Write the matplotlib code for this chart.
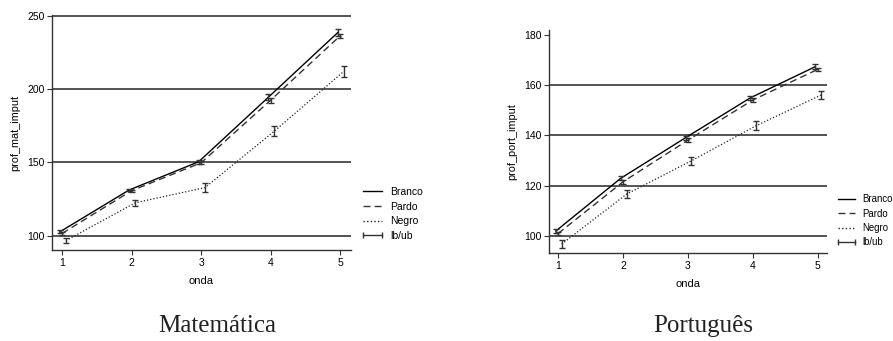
import numpy as np
import matplotlib
matplotlib.use('Agg')
import matplotlib.pyplot as plt
from matplotlib.lines import Line2D

# ondas (waves) and group means / half-widths of the CI
ondas = [1, 2, 3, 4, 5]
grupos = ['Branco', 'Pardo', 'Negro']

mat_branco = [102.5, 131.2, 150.5, 194.5, 238.8]
mat_pardo = [101.5, 130.7, 149.8, 192.6, 236.6]
mat_negro = [96.6, 122.5, 132.8, 171.5, 212.4]
mat_err_branco = [1.0, 1.0, 1.5, 2.0, 2.3]
mat_err_pardo = [0.8, 0.8, 1.0, 1.8, 1.5]
mat_err_negro = [1.5, 2.0, 3.0, 3.5, 3.9]

port_branco = [101.9, 122.9, 139.1, 155.0, 167.4]
port_pardo = [100.9, 121.5, 138.1, 154.1, 166.3]
port_negro = [96.7, 116.6, 129.9, 143.9, 156.1]
port_err_branco = [0.8, 0.8, 0.8, 0.9, 0.9]
port_err_pardo = [0.7, 0.7, 0.7, 0.7, 0.7]
port_err_negro = [1.6, 1.5, 1.6, 1.7, 1.7]

mat_yticks = [100, 150, 200, 250]
port_yticks = [100, 120, 140, 160, 180]

plt.rcParams['font.family'] = ['Liberation Sans', 'DejaVu Sans']

estilos = {
    'Branco': dict(color='black', linestyle='-', lw=1.0, dx=-0.035),
    'Pardo': dict(color='#333333', linestyle=(0, (5, 3)), lw=1.0, dx=0.0),
    'Negro': dict(color='#222222', linestyle=(0, (1, 1.6)), lw=0.9, dx=0.055),
}


def painel(ax, medias, erros, yticks, ylim, ylabel, sem_grid_topo):
    x = np.array(ondas, dtype=float)
    for g, m, e in zip(grupos, medias, erros):
        st = estilos[g]
        xs = x + st['dx']
        ax.plot(xs, m, color=st['color'], linestyle=st['linestyle'], lw=st['lw'], zorder=3)
        ax.errorbar(xs, m, yerr=e, fmt='none', ecolor='#333333', elinewidth=1.0,
                    capsize=2.5, capthick=1.0, zorder=4)
    ax.set_xlim(0.86, 5.15)
    ax.set_ylim(*ylim)
    ax.set_xticks(ondas)
    ax.set_yticks(yticks)
    ax.yaxis.grid(True, color='#262626', lw=1.1)
    ax.set_axisbelow(True)
    if sem_grid_topo:
        ax.yaxis.get_gridlines()[-1].set_visible(False)
    for s in ['top', 'right']:
        ax.spines[s].set_visible(False)
    for s in ['left', 'bottom']:
        ax.spines[s].set_color('#333333')
        ax.spines[s].set_linewidth(1.0)
    ax.tick_params(labelsize=7.5, length=3.5, width=0.8, color='#333333', pad=2)
    ax.set_xlabel('onda', fontsize=8, labelpad=6)
    ax.set_ylabel(ylabel, fontsize=7.8, labelpad=5)


fig = plt.figure(figsize=(8.93, 3.41), dpi=100)
ax1 = fig.add_axes([0.0586, 0.267, 0.334, 0.688])
ax2 = fig.add_axes([0.6148, 0.257, 0.3117, 0.655])

painel(ax1, [mat_branco, mat_pardo, mat_negro],
       [mat_err_branco, mat_err_pardo, mat_err_negro],
       mat_yticks, (90.2, 250.6), 'prof_mat_imput', False)
painel(ax2, [port_branco, port_pardo, port_negro],
       [port_err_branco, port_err_pardo, port_err_negro],
       port_yticks, (93.0, 182.0), 'prof_port_imput', True)

handles = [Line2D([], [], color=estilos[g]['color'], linestyle=estilos[g]['linestyle'], lw=1.0)
           for g in grupos]
handles.append(Line2D([], [], color='#333333', lw=1.0, marker='|', markersize=4.5, markeredgewidth=1.0))
labels = grupos + ['lb/ub']

fig.legend(handles, labels, loc='upper left', bbox_to_anchor=(0.403, 0.452), frameon=False,
           fontsize=7.5, handlelength=2.4, handletextpad=0.5, labelspacing=0.45,
           borderpad=0, borderaxespad=0, numpoints=2)
fig.legend(handles, labels, loc='upper left', bbox_to_anchor=(0.935, 0.430), frameon=False,
           fontsize=6.9, handlelength=2.4, handletextpad=0.45, labelspacing=0.45,
           borderpad=0, borderaxespad=0, numpoints=2)

fig.text(217 / 893, 1 - 332 / 341, 'Matemática', ha='center', va='baseline',
         fontsize=18, family=['Liberation Serif', 'DejaVu Serif'], color='#222222')
fig.text(703 / 893, 1 - 332 / 341, 'Português', ha='center', va='baseline',
         fontsize=18, family=['Liberation Serif', 'DejaVu Serif'], color='#222222')

fig.savefig('out.png', dpi=100)
plt.close(fig)
